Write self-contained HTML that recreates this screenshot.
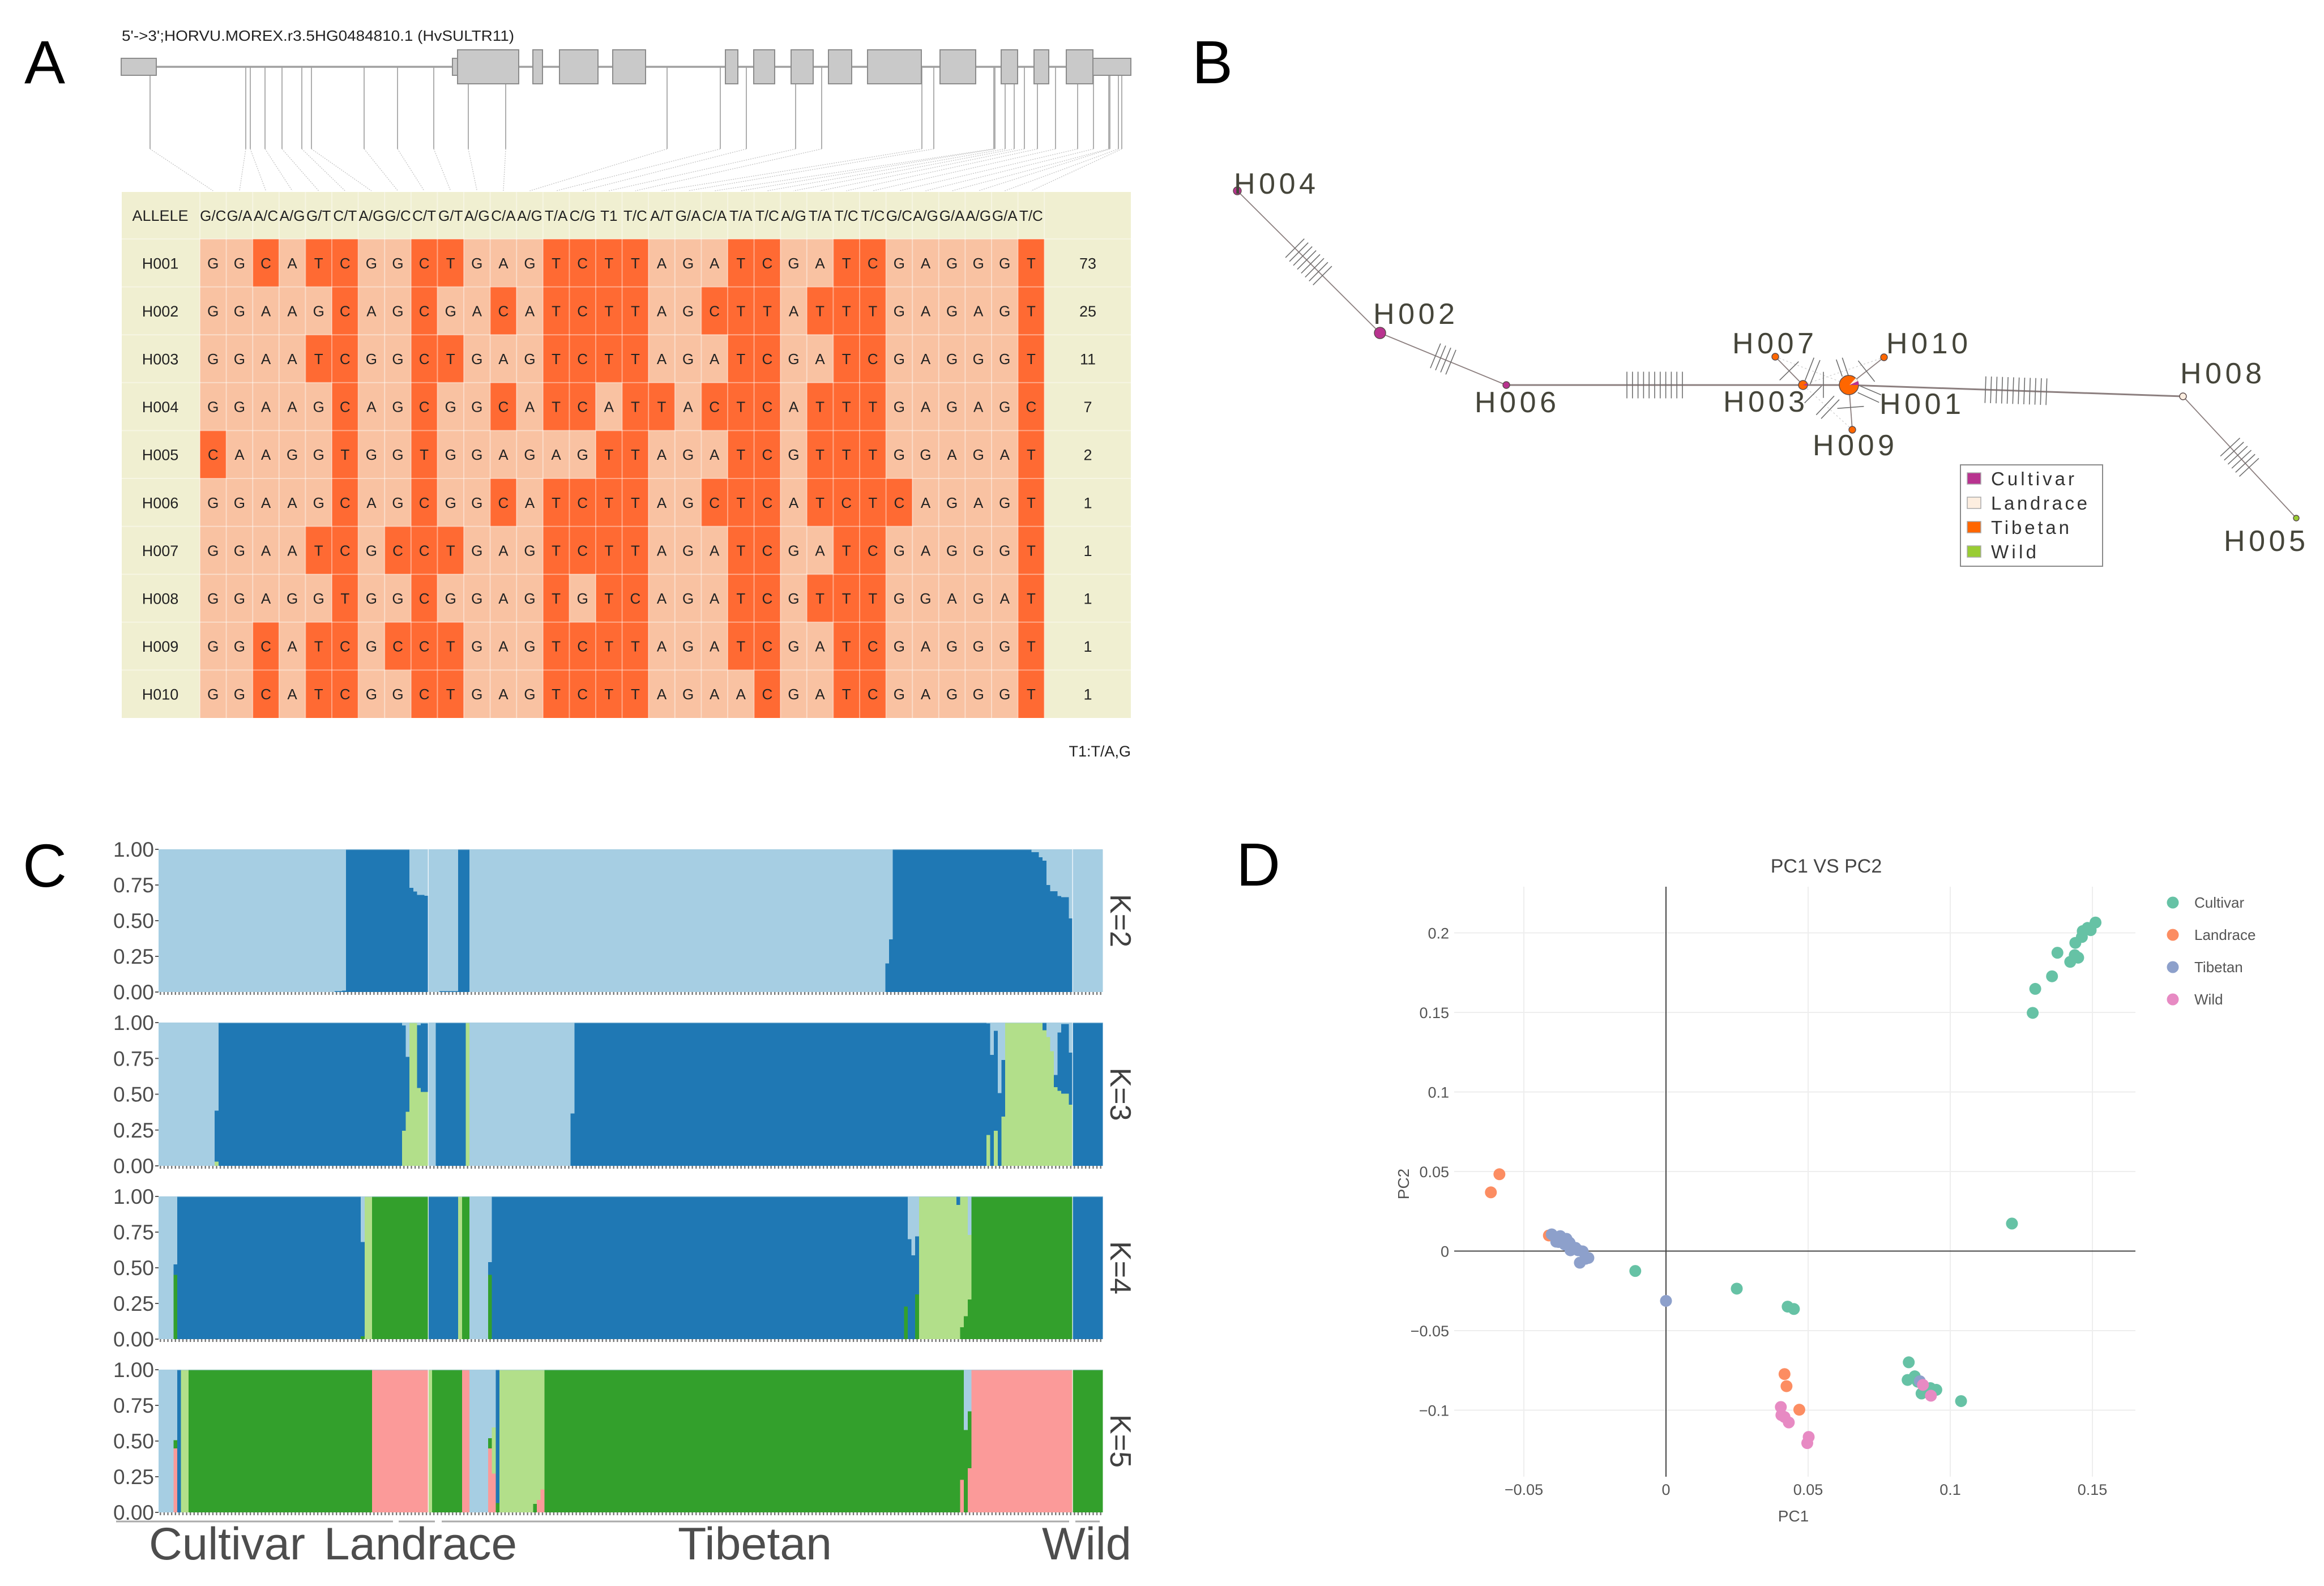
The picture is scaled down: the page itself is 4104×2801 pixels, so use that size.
<!DOCTYPE html>
<html lang="en">
<head>
<meta charset="utf-8">
<title>HvSULTR11 haplotype figure</title>
<style>
html,body{margin:0;padding:0;background:#fff;}
svg{display:block;font-family:"Liberation Sans",Arial,sans-serif;}
</style>
</head>
<body>
<svg id="fig" xmlns="http://www.w3.org/2000/svg" width="4104" height="2801" viewBox="0 0 4104 2801">
  <rect x="0" y="0" width="4104" height="2801" fill="#ffffff"/>
  <text x="43" y="147" font-size="108" fill="#000">A</text>
  <text x="2105" y="147" font-size="108" fill="#000">B</text>
  <text x="40" y="1566" font-size="108" fill="#000">C</text>
  <text x="2183" y="1564" font-size="108" fill="#000">D</text>

  <g id="panelA">
    <text x="215" y="72" font-size="26" fill="#222" textLength="693" lengthAdjust="spacingAndGlyphs">5'-&gt;3';HORVU.MOREX.r3.5HG0484810.1 (HvSULTR11)</text>
  </g>
  <g id="panelB"></g>
  <g id="panelC"></g>
  <g id="panelD"></g>
</svg>

<script>
/* ---------- Panel A data ---------- */
var alleleHeaders = ["G/C","G/A","A/C","A/G","G/T","C/T","A/G","G/C","C/T","G/T","A/G","C/A","A/G","T/A","C/G","T1","T/C","A/T","G/A","C/A","T/A","T/C","A/G","T/A","T/C","T/C","G/C","A/G","G/A","A/G","G/A","T/C"];
var haplotypeNames = ["H001","H002","H003","H004","H005","H006","H007","H008","H009","H010"];
var haplotypeSeqs = [
  "GGCATCGGCTGAGTCTTAGATCGATCGAGGGT",
  "GGAAGCAGCGACATCTTAGCTTATTTGAGAGT",
  "GGAATCGGCTGAGTCTTAGATCGATCGAGGGT",
  "GGAAGCAGCGGCATCATTACTCATTTGAGAGC",
  "CAAGGTGGTGGAGAGTTAGATCGTTTGGAGAT",
  "GGAAGCAGCGGCATCTTAGCTCATCTCAGAGT",
  "GGAATCGCCTGAGTCTTAGATCGATCGAGGGT",
  "GGAGGTGGCGGAGTGTCAGATCGTTTGGAGAT",
  "GGCATCGCCTGAGTCTTAGATCGATCGAGGGT",
  "GGCATCGGCTGAGTCTTAGAACGATCGAGGGT"
];
var haplotypeCounts = [73,25,11,7,2,1,1,1,1,1];
var exonSpans = [[808,916],[941,958],[988,1056],[1082,1140],[1281,1303],[1331,1368],[1397,1436],[1463,1504],[1532,1627],[1660,1723],[1768,1797],[1826,1852],[1883,1930]];
var utrSpans = [[214,276],[799,808],[1930,1997]];
var snpSites = [265,434,442,468,498,533,550,643,702,766,827,893,1178,1272,1318,1405,1451,1628,1649,1755,1757,1775,1791,1809,1832,1864,1903,1931,1958,1960,1975,1981];

/* ---------- Panel B data ---------- */
var netNames = ["H001","H002","H003","H004","H005","H006","H007","H008","H009","H010"];
var netX = [3265,2437,3184,2185,4055,2660,3135,3855,3271,3327];
var netY = [680,588,680,337,915,680,630,700,759,631];
var netRadius = [17,10,8,7,5,6,6,6,6,6];
var netGroup = ["Tibetan","Cultivar","Tibetan","Cultivar","Wild","Cultivar","Tibetan","Landrace","Tibetan","Tibetan"];
var netLabelX = [3319,2425,3043,2179,3927,2604,3059,3850,3201,3331];
var netLabelY = [731,572,727,342,973,728,624,677,804,624];
var edgeFrom = ["H004","H002","H006","H003","H001","H008","H003","H001","H001"];
var edgeTo = ["H002","H006","H003","H001","H008","H005","H007","H010","H009"];
var edgeMutations = [8,4,11,0,12,6,1,1,1];
var faintFrom = ["H007","H010","H009","H009","H007"];
var faintTo = ["H001","H003","H003","H001","H003"];
var extraHatchX1 = [3187.7,3196.7,3220,3186.7,3207.3,3216,3253.3,3264,3285,3280.7];
var extraHatchY1 = [671.7,678.3,656.7,711.7,732.7,739.3,665,663.3,681.7,693.3];
var extraHatchX2 = [3203.3,3214,3220,3216.7,3239,3248,3242.7,3253.3,3321.7,3318.3];
var extraHatchY2 = [631.7,636,702.7,681.7,699.3,705.7,635,631.7,697.3,710.7];
var netLegendNames = ["Cultivar","Landrace","Tibetan","Wild"];
var netLegendColors = ["#b8338f","#fdeee0","#ff6600","#99cc33"];

/* ---------- Panel C data: [bars, cluster fractions bottom to top] ---------- */
var barCount = 252;
var yTickLabels = ["1.00","0.75","0.50","0.25","0.00"];
var yTickValues = [1,0.75,0.5,0.25,0];
var k2Colors = ["#1f78b4","#a6cee3"];
var k2Runs = [
[47,0,1],[2,.005,.995],[1,.01,.99],[17,1,0],[1,.73,.27],[1,.705,.295],[2,.68,.32],[1,.675,.325],
[3,0,1],[5,.005,.995],[3,1,0],[111,0,1],[1,.2,.8],[1,.37,.63],[37,1,0],
[2,.98,.02],[1,.945,.055],[1,.92,.08],[1,.75,.25],[2,.707,.293],[1,.672,.328],[2,.664,.336],[1,.515,.485],[8,0,1]
];
var k3Colors = ["#b2df8a","#1f78b4","#a6cee3"];
var k3Runs = [
[15,0,0,1],[1,.03,.355,.615],[49,0,1,0],[1,.245,.735,.02],[1,.377,.383,.24],[2,1,0,0],[1,.543,.44,.017],[2,.515,.48,.005],
[2,0,0,1],[8,0,1,0],[1,1,0,0],[27,0,0,1],[1,0,.365,.635],[110,0,1,0],
[1,.216,.779,.005],[1,0,.775,.225],[1,.245,.698,.057],[1,0,.507,.493],[1,.344,.396,.26],[10,1,0,0],
[1,.947,.053,0],[1,.9,0,.1],[1,.8,0,.2],[1,.55,.085,.365],[1,.523,.407,.07],[2,.503,.487,.01],[1,.427,.363,.21],[8,0,1,0]
];
var k4Colors = ["#33a02c","#b2df8a","#1f78b4","#a6cee3"];
var k4Runs = [
[4,0,0,0,1],[1,.45,0,.074,.476],[49,0,0,1,0],[1,.02,0,.66,.32],[2,0,1,0,0],[15,1,0,0,0],[8,0,0,1,0],[1,0,1,0,0],[2,1,0,0,0],
[5,0,0,0,1],[1,.45,0,.09,.46],[110,0,0,1,0],[1,.228,0,.772,0],[1,0,0,.7,.3],[1,0,0,.588,.412],[1,.313,0,.407,.28],
[10,0,1,0,0],[1,0,.94,.06,0],[1,.083,.917,0,0],[1,.16,.84,0,0],[1,.278,.452,0,.27],[27,1,0,0,0],[8,0,0,1,0]
];
var k5Colors = ["#fb9a99","#33a02c","#1f78b4","#b2df8a","#a6cee3"];
var k5Runs = [
[4,0,0,0,0,1],[1,.449,.056,0,0,.495],[1,0,0,1,0,0],[2,0,0,0,1,0],[49,0,1,0,0,0],[15,1,0,0,0,0],[1,0,0,0,1,0],[8,0,1,0,0,0],
[2,1,0,0,0,0],[5,0,0,0,0,1],[1,.449,.071,0,0,.48],[1,.272,0,0,.323,.405],[1,0,.065,.935,0,0],[9,0,0,0,1,0],
[1,0,.06,0,.94,0],[1,.088,0,0,.912,0],[1,.16,0,0,.84,0],[111,0,1,0,0,0],[1,.228,.772,0,0,0],[1,0,.577,0,0,.423],[1,.31,.398,0,0,.292],
[27,1,0,0,0,0],[8,0,1,0,0,0]
];

/* ---------- Panel D data ---------- */
var pcXTicks = [-0.05,0,0.05,0.1,0.15];
var pcXTickLabels = ["\u22120.05","0","0.05","0.1","0.15"];
var pcYTicks = [0.2,0.15,0.1,0.05,0,-0.05,-0.1];
var pcYTickLabels = ["0.2","0.15","0.1","0.05","0","\u22120.05","\u22120.1"];
var pcSeriesNames = ["Cultivar","Landrace","Tibetan","Wild"];
var pcSeriesColors = ["#66c2a5","#fc8d62","#8da0cb","#e78ac3"];
var cultivarPC1 = [.1511,.1494,.1483,.1466,.1463,.144,.1377,.1438,.145,.1422,.1358,.1299,.129,.1217,-.0108,.0249,.0428,.045,.0854,.085,.0875,.0886,.0899,.093,.0951,.1038];
var cultivarPC2 = [.2065,.2017,.2031,.2011,.1974,.1937,.1875,.186,.1844,.1818,.1727,.1648,.1497,.0173,-.0125,-.0236,-.0349,-.0364,-.0699,-.081,-.0787,-.0821,-.0895,-.0861,-.0872,-.0943];
var landracePC1 = [-.0586,-.0616,.0417,.0424,.0469,-.0412];
var landracePC2 = [.0483,.0369,-.0773,-.0849,-.0997,.0098];
var tibetanPC1 = [-.0402,-.0389,-.0379,-.0363,-.0386,-.0356,-.0339,-.0329,-.0336,-.0309,-.0293,-.0273,-.0283,-.0303,-.0385,-.0372,-.035,-.0378,-.0357,-.0346,-.0335,-.0318,0,.0893];
var tibetanPC2 = [.0105,.0087,.0081,.0069,.0059,.0041,.0052,.0016,.0005,.0005,-.0002,-.0043,-.0048,-.0073,.0085,.0094,.0077,.0057,.0057,.0063,.0028,.002,-.0313,-.0818];
var wildPC1 = [.0904,.0932,.0404,.0406,.0417,.0432,.0502,.0497];
var wildPC2 = [-.0841,-.0909,-.098,-.1031,-.1043,-.1077,-.1168,-.1207];

var NS = "http://www.w3.org/2000/svg";
function add(tag, attrs, parent, txt){
  var el = document.createElementNS(NS, tag);
  for (var k in attrs) el.setAttribute(k, attrs[k]);
  if (txt !== undefined) el.textContent = txt;
  parent.appendChild(el);
  return el;
}

/* ========== Panel A ========== */
(function(){
  var P = document.getElementById('panelA');
  var tableLeft = 215, tableTop = 339, tableRight = 1997, tableBottom = 1268;
  var colLeft = 353, colW = 46.6, headBottom = 422, rowH = 84.6;
  function colCenter(i){ return colLeft + (i + 0.5) * colW; }
  function rowTop(i){ return headBottom + i * rowH; }

  var gl = add('g', {}, P);
  
  
  snpSites.forEach(function(x, i){
    var v = add('line', {x1:x, y1:118, x2:x, y2:263, stroke:'#a6a6a6', 'stroke-width':1.8}, gl);
    
    
    var d = add('line', {x1:x, y1:263, x2:colCenter(i), y2:337, stroke:'#c4c4c4', 'stroke-width':1.3, 'stroke-dasharray':'2 2'}, gl);
    
    
  });

  var intron = add('line', {x1:215, y1:118, x2:1997, y2:118, stroke:'#a0a0a0', 'stroke-width':3.5}, P);
  
  
  utrSpans.forEach(function(s){
    var r = add('rect', {x:s[0], y:103, width:s[1]-s[0], height:30, fill:'#c9c9c9', stroke:'#8c8c8c', 'stroke-width':2}, P);
    
    
  });
  exonSpans.forEach(function(s){
    var r = add('rect', {x:s[0], y:88, width:s[1]-s[0], height:60, fill:'#c9c9c9', stroke:'#8c8c8c', 'stroke-width':2}, P);
    
    
  });

  var bg = add('rect', {x:tableLeft, y:tableTop, width:tableRight-tableLeft, height:tableBottom-tableTop, fill:'#f0efd1'}, P);
  
  

  var hl = add('text', {x:283, y:390, 'font-size':27, 'text-anchor':'middle', fill:'#222'}, P, 'ALLELE');
  
  

  alleleHeaders.forEach(function(a, i){
    var t = add('text', {x:colCenter(i), y:390, 'font-size':26, 'text-anchor':'middle', fill:'#222'}, P, a);
    
    
  });

  haplotypeNames.forEach(function(n, r){
    var cy = rowTop(r) + rowH / 2;
    var seq = haplotypeSeqs[r];
    for (var c = 0; c < seq.length; c++){
      var ch = seq.charAt(c);
      var dark = (ch === 'C' || ch === 'T');
      var cell = add('rect', {x:colLeft + c*colW, y:rowTop(r), width:colW, height:rowH, fill: dark ? '#ff6a33' : '#f9c2a2'}, P);
      
      
      var lt = add('text', {x:colCenter(c), y:cy+9.5, 'font-size':26, 'text-anchor':'middle', fill:'#222'}, P, ch);
      
      
    }
    var nm = add('text', {x:283, y:cy+10, 'font-size':27, 'text-anchor':'middle', fill:'#222'}, P, n);
    
    
    var ct = add('text', {x:1921, y:cy+10, 'font-size':27, 'text-anchor':'middle', fill:'#222'}, P, haplotypeCounts[r]);
    
    
  });

  var grid = add('g', {stroke:'#ffffff', 'stroke-opacity':0.4, 'stroke-width':2}, P);
  
  
  for (var c = 0; c <= alleleHeaders.length; c++){
    var gv = add('line', {x1:colLeft+c*colW, y1:tableTop, x2:colLeft+c*colW, y2:tableBottom}, grid);
    
    
  }
  for (var r = 0; r < haplotypeNames.length; r++){
    var gh = add('line', {x1:tableLeft, y1:rowTop(r), x2:tableRight, y2:rowTop(r)}, grid);
    
    
  }

  var note = add('text', {x:1997, y:1336, 'font-size':27, 'text-anchor':'end', fill:'#222'}, P, 'T1:T/A,G');
  
  
})();

/* ========== Panel B ========== */
(function(){
  var P = document.getElementById('panelB');
  function idx(n){ return netNames.indexOf(n); }
  function groupColor(g){ return netLegendColors[netLegendNames.indexOf(g)]; }
  function sector(cx, cy, r, a0, a1){
    var p0 = [cx + r*Math.cos(a0*Math.PI/180), cy + r*Math.sin(a0*Math.PI/180)];
    var p1 = [cx + r*Math.cos(a1*Math.PI/180), cy + r*Math.sin(a1*Math.PI/180)];
    return 'M'+cx+' '+cy+' L'+p0[0]+' '+p0[1]+' A'+r+' '+r+' 0 0 1 '+p1[0]+' '+p1[1]+' Z';
  }

  faintFrom.forEach(function(f, e){
    var a = idx(f), b = idx(faintTo[e]);
    var l = add('line', {x1:netX[a], y1:netY[a], x2:netX[b], y2:netY[b], stroke:'#d2d2d2', 'stroke-width':1.4, 'stroke-dasharray':'3 4'}, P);
    
    
  });

  edgeFrom.forEach(function(f, e){
    var a = idx(f), b = idx(edgeTo[e]);
    var x1 = netX[a], y1 = netY[a], x2 = netX[b], y2 = netY[b];
    var thick = (Math.abs(y1 - y2) < 30 && Math.abs(x1 - x2) > 60);
    var l = add('line', {x1:x1, y1:y1, x2:x2, y2:y2, stroke:'#8c7f7f', 'stroke-width': thick ? 3 : 1.8}, P);
    
    
    var dx = x2 - x1, dy = y2 - y1, len = Math.sqrt(dx*dx + dy*dy), ux = dx/len, uy = dy/len;
    var n = edgeMutations[e], sp = 9.8, half = 23.5;
    for (var i = 0; i < n; i++){
      var t = len/2 + (i - (n-1)/2) * sp;
      var cx = x1 + ux*t, cy = y1 + uy*t;
      var h = add('line', {x1:cx - uy*half, y1:cy + ux*half, x2:cx + uy*half, y2:cy - ux*half, stroke:'#6e6e6e', 'stroke-width':1.6}, P);
      
      
    }
  });

  extraHatchX1.forEach(function(x, i){
    var h = add('line', {x1:x, y1:extraHatchY1[i], x2:extraHatchX2[i], y2:extraHatchY2[i], stroke:'#6e6e6e', 'stroke-width':1.6}, P);
    
    
  });

  netNames.forEach(function(n, i){
    var node = add('circle', {cx:netX[i], cy:netY[i], r:netRadius[i], fill:groupColor(netGroup[i]), stroke:'#5a4a4a', 'stroke-width':1.4}, P);
    
    
    var lab = add('text', {x:netLabelX[i], y:netLabelY[i], 'font-size':52, fill:'#45453a', textLength:144, lengthAdjust:'spacing'}, P, n);
    
    
  });

  var h1 = idx('H001');
  var wedgeC = add('path', {d:sector(netX[h1]+1, netY[h1], 16.5, -25, 0), fill:'#b8338f'}, P);
  
  
  var wedgeL = add('path', {d:sector(netX[h1]+1, netY[h1], 16.5, -48, -25), fill:'#fdeee0'}, P);
  
  
  var h3 = idx('H003');
  var wedgeC3 = add('path', {d:sector(netX[h3], netY[h3], 7.5, -25, 10), fill:'#b8338f'}, P);
  
  

  var box = add('rect', {x:3462, y:821, width:251, height:179, fill:'#fff', stroke:'#8a8a8a', 'stroke-width':2}, P);
  
  
  var legendWidths = [147,170,138,80];
  netLegendNames.forEach(function(n, i){
    var cy = 845 + i*43;
    var s = add('rect', {x:3474, y:cy-10, width:24, height:20, fill:netLegendColors[i], stroke:'#aaa', 'stroke-width':1.5}, P);
    
    
    var t = add('text', {x:3516, y:cy+12, 'font-size':33, fill:'#333', textLength:legendWidths[i], lengthAdjust:'spacing'}, P, n);
    
    
  });
})();

/* ========== Panel C ========== */
(function(){
  var P = document.getElementById('panelC');
  var left = 280, right = 1947;
  var barW = (right - left) / barCount;
  function xScale(i){ return left + i * barW; }
  var panels = [
    {name:'k2', label:'K=2', top:1500, bottom:1752, runs:k2Runs, colors:k2Colors},
    {name:'k3', label:'K=3', top:1806, bottom:2059, runs:k3Runs, colors:k3Colors},
    {name:'k4', label:'K=4', top:2113, bottom:2365, runs:k4Runs, colors:k4Colors},
    {name:'k5', label:'K=5', top:2419, bottom:2671, runs:k5Runs, colors:k5Colors}
  ];
  panels.forEach(function(p){
    var g = add('g', {'shape-rendering':'crispEdges'}, P);
    
    
    function yScale(v){ return p.bottom - v * (p.bottom - p.top); }
    var pos = 0;
    p.runs.forEach(function(run){
      var n = run[0], acc = 0;
      for (var c = 1; c < run.length; c++){
        var v = run[c];
        if (v > 0){
          var y1 = yScale(acc + v), y0 = yScale(acc);
          var r = add('rect', {x:xScale(pos), y:y1, width:xScale(pos+n)-xScale(pos)+0.3, height:y0-y1, fill:p.colors[c-1]}, g);
          
          
        }
        acc += v;
      }
      pos += n;
    });

    var topFringe = add('line', {x1:left, y1:p.top+0.5, x2:right, y2:p.top+0.5, stroke:'#a6cee3', 'stroke-width':1.5, 'stroke-opacity':0.6}, P);
    
    

    [72, 244].forEach(function(i){
      var sep = add('line', {x1:xScale(i), y1:p.top, x2:xScale(i), y2:p.bottom, stroke:'#ffffff', 'stroke-width':1.5, 'stroke-opacity':0.8}, P);
      
      
    });

    var d = '';
    for (var i = 0; i < barCount; i++){
      var tx = xScale(i + 0.5);
      d += 'M' + tx.toFixed(1) + ' ' + p.bottom + 'V' + (p.bottom + 5);
    }
    var ticks = add('path', {d:d, stroke:'#777', 'stroke-width':2.4, fill:'none'}, P);
    
    

    yTickValues.forEach(function(v, i){
      var y = yScale(v);
      var tk = add('line', {x1:274, y1:y, x2:280, y2:y, stroke:'#555', 'stroke-width':2}, P);
      
      
      var tl = add('text', {x:272, y:y+13, 'font-size':37, 'text-anchor':'end', fill:'#4d4d4d'}, P, yTickLabels[i]);
      
      
    });

    var cy = (p.top + p.bottom) / 2;
    var kl = add('text', {x:0, y:0, 'font-size':52, 'text-anchor':'middle', fill:'#404040', transform:'translate(1961,' + cy + ') rotate(90)'}, P, p.label);
    
    
  });

  var groupNames = ['Cultivar','Landrace','Tibetan','Wild'];
  var groupLineStart = [205,704,780,1899];
  var groupLineEnd = [694,768,1888,1942];
  var groupTextX = [263,572,1197,1840];
  var groupTextW = [276,341,272,158];
  groupNames.forEach(function(n, i){
    var l = add('line', {x1:groupLineStart[i], y1:2687, x2:groupLineEnd[i], y2:2687, stroke:'#aaaaaa', 'stroke-width':3}, P);
    
    
    var t = add('text', {x:groupTextX[i], y:2754, 'font-size':81, fill:'#4d4d4d', textLength:groupTextW[i], lengthAdjust:'spacingAndGlyphs'}, P, n);
    
    
  });
})();

/* ========== Panel D ========== */
(function(){
  var P = document.getElementById('panelD');
  var plotL = 2568, plotR = 3771, plotT = 1566, plotB = 2608;
  function xS(v){ return 2942 + v * 5020; }
  function yS(v){ return 2209.5 - v * 2810; }

  pcXTicks.forEach(function(v, i){
    if (v !== 0){
      var g = add('line', {x1:xS(v), y1:plotT, x2:xS(v), y2:plotB, stroke:'#eeeeee', 'stroke-width':2}, P);
      
      
    }
    var t = add('text', {x:xS(v), y:2640, 'font-size':27, 'text-anchor':'middle', fill:'#555'}, P, pcXTickLabels[i]);
    
    
  });
  pcYTicks.forEach(function(v, i){
    if (v !== 0){
      var g = add('line', {x1:plotL, y1:yS(v), x2:plotR, y2:yS(v), stroke:'#eeeeee', 'stroke-width':2}, P);
      
      
    }
    var t = add('text', {x:2559, y:yS(v)+10, 'font-size':27, 'text-anchor':'end', fill:'#555'}, P, pcYTickLabels[i]);
    
    
  });

  var zx = add('line', {x1:xS(0), y1:plotT, x2:xS(0), y2:plotB, stroke:'#444', 'stroke-width':2}, P);
  
  
  var zy = add('line', {x1:plotL, y1:yS(0), x2:plotR, y2:yS(0), stroke:'#444', 'stroke-width':2}, P);
  
  

  var seriesX = [cultivarPC1, landracePC1, tibetanPC1, wildPC1];
  var seriesY = [cultivarPC2, landracePC2, tibetanPC2, wildPC2];
  pcSeriesNames.forEach(function(n, s){
    var g = add('g', {fill:pcSeriesColors[s]}, P);
    
    
    seriesX[s].forEach(function(v, i){
      var c = add('circle', {cx:xS(v), cy:yS(seriesY[s][i]), r:10.5}, g);
      
      
    });
    var ly = 1594 + s * 57;
    var lc = add('circle', {cx:3837, cy:ly, r:10.5, fill:pcSeriesColors[s]}, P);
    
    
    var lt = add('text', {x:3875, y:ly+9, 'font-size':26, fill:'#555'}, P, n);
    
    
  });

  var title = add('text', {x:3225, y:1541, 'font-size':34, 'text-anchor':'middle', fill:'#444'}, P, 'PC1 VS PC2');
  
  
  var xt = add('text', {x:3167, y:2687, 'font-size':28, 'text-anchor':'middle', fill:'#555'}, P, 'PC1');
  
  
  var yt = add('text', {x:0, y:0, 'font-size':28, 'text-anchor':'middle', fill:'#555', transform:'translate(2488,2091) rotate(-90)'}, P, 'PC2');
  
  
})();
</script>
</body>
</html>
